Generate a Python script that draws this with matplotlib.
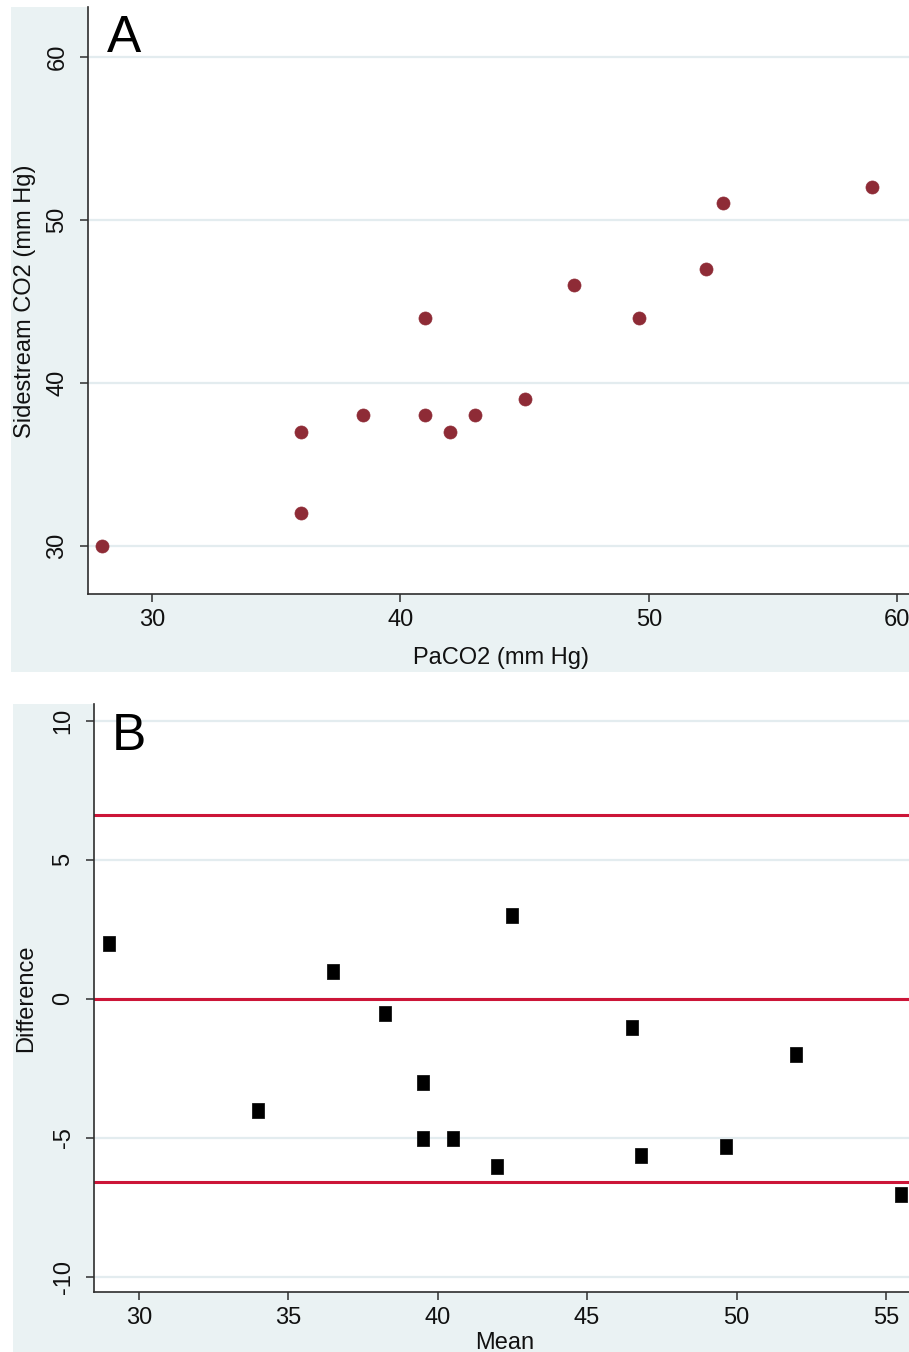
import matplotlib
matplotlib.use('Agg')
import matplotlib.pyplot as plt
from matplotlib.patches import Rectangle

# ---------------- data ----------------
paco2 = [28, 36, 36, 38.5, 41, 41, 42, 43, 45, 47, 49.6, 52.3, 53, 59]
sidestream = [30, 37, 32, 38, 44, 38, 37, 38, 39, 46, 44, 47, 51, 52]

ba_mean = [29, 36.5, 34, 38.25, 42.5, 39.5, 39.5, 40.5, 42, 46.5, 46.8, 49.65, 52, 55.5]
ba_diff = [2, 1, -4, -0.5, 3, -3, -5, -5, -6, -1, -5.6, -5.3, -2, -7]

ba_lines = [6.6, 0.0, -6.6]   # upper LoA, mean line, lower LoA

a_xticks = [30, 40, 50, 60]
a_yticks = [30, 40, 50, 60]
b_xticks = [30, 35, 40, 45, 50, 55]
b_yticks = [-10, -5, 0, 5, 10]

# ---------------- style ----------------
W, H = 909, 1352
BG = '#EAF2F3'
GRID = '#E3ECEF'
SPINE = '#2E2E2E'
DOT = '#8E2B36'
RED = '#CC1538'
FS = 17

plt.rcParams['font.family'] = ['Liberation Sans', 'DejaVu Sans']

fig = plt.figure(figsize=(W / 100, H / 100), dpi=100)
fig.patch.set_facecolor('white')


def fx(px):
    return px / W


def fy(py):
    return 1 - py / H


def bg(x0, y0, x1, y1):
    fig.patches.append(Rectangle((fx(x0), fy(y1)), fx(x1) - fx(x0), fy(y0) - fy(y1),
                                 transform=fig.transFigure, facecolor=BG,
                                 edgecolor='none', zorder=-10))


def style_axes(ax, xt, yt, xpad, ypad):
    ax.set_zorder(1)
    for s in ['top', 'right']:
        ax.spines[s].set_visible(False)
    for s in ['left', 'bottom']:
        ax.spines[s].set_color(SPINE)
        ax.spines[s].set_linewidth(1.2)
    ax.set_xticks(xt)
    ax.set_yticks(yt)
    ax.set_xticklabels([str(v) for v in xt])
    ax.set_yticklabels([str(v) for v in yt], rotation=90, va='center')
    ax.tick_params(axis='both', direction='out', length=6, width=1.1,
                   color=SPINE, labelsize=FS, labelcolor='#111111')
    ax.tick_params(axis='x', pad=xpad)
    ax.tick_params(axis='y', pad=ypad)
    ax.grid(axis='y', color=GRID, linewidth=1.6, zorder=0)
    ax.grid(axis='x', visible=False)
    ax.set_axisbelow(True)
    ax.set_facecolor('white')


# ---------------- panel A ----------------
bg(11, 7, 909, 672)
axA = fig.add_axes([fx(88), fy(594), fx(909) - fx(88), fy(7) - fy(594)])
axA.set_xlim(27.42, 60.48)
axA.set_ylim(27.05, 63.05)
style_axes(axA, a_xticks, a_yticks, 4.5, 8)
axA.plot(paco2, sidestream, linestyle='none', marker='o', markersize=9.4,
         markerfacecolor=DOT, markeredgecolor=DOT, markeredgewidth=0.5, zorder=3)

fig.text(fx(107), fy(52), 'A', fontsize=37, ha='left', va='baseline', color='black',
         zorder=5)
fig.text(fx(25), fy(301), 'Sidestream CO2 (mm Hg)', fontsize=FS, rotation=90,
         ha='center', va='center', color='#111111')
fig.text(fx(501), fy(658), 'PaCO2 (mm Hg)', fontsize=FS, ha='center', va='center',
         color='#111111')

# ---------------- panel B ----------------
bg(13, 704, 909, 1352)
axB = fig.add_axes([fx(94), fy(1292), fx(909) - fx(94), fy(704) - fy(1292)])
axB.set_xlim(28.5, 55.77)
axB.set_ylim(-10.54, 10.6)
style_axes(axB, b_xticks, b_yticks, 4.5, 8)
for v in ba_lines:
    axB.axhline(v, color=RED, linewidth=2.2, zorder=2)
rect = [(-0.4, -0.5), (0.4, -0.5), (0.4, 0.5), (-0.4, 0.5), (-0.4, -0.5)]
axB.plot(ba_mean, ba_diff, linestyle='none', marker=rect, markersize=10.8,
         markerfacecolor='black', markeredgecolor='black', markeredgewidth=0.5,
         zorder=3)

fig.text(fx(112), fy(750), 'B', fontsize=37, ha='left', va='baseline', color='black',
         zorder=5)
fig.text(fx(26), fy(998), 'Difference', fontsize=FS, rotation=90,
         ha='center', va='center', color='#111111')
fig.text(fx(505), fy(1343), 'Mean', fontsize=FS, ha='center', va='center',
         color='#111111')

fig.savefig('out.png', dpi=100, facecolor='white')
